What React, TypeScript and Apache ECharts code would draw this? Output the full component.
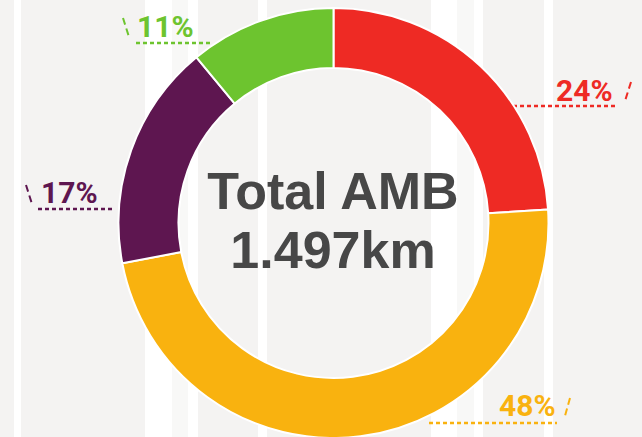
import React, { useEffect, useRef } from "react";
import * as echarts from "echarts";

const categories = ["A", "B", "C", "D"];
const shares = [24, 48, 17, 11];
const colors = ["#EE2A24", "#F9B20F", "#5E1650", "#6DC42F"];
const centerLines = ["Total AMB", "1.497km"];

// label placement (text left x, middle y), underline [x1, x2, y], slash [x1,y1,x2,y2]
const labelPos = [
  { x: 556, y: 90, u: [513, 618, 106], s: [631, 82, 625, 101] },
  { x: 499, y: 405, u: [429, 557, 423], s: [570, 398, 565, 416] },
  { x: 41, y: 192, u: [38, 112, 209], s: [26, 185, 32, 204] },
  { x: 137, y: 26, u: [136, 210, 43], s: [123, 18, 129, 37] },
];

const stripes = [
  [14, 7, "#ffffff"],
  [145, 27, "#ffffff"],
  [172, 16, "#f8f8f7"],
  [188, 10, "#ffffff"],
  [258, 9, "#ffffff"],
  [431, 26, "#ffffff"],
  [457, 17, "#f8f8f7"],
  [474, 9, "#ffffff"],
  [544, 9, "#ffffff"],
];

export default function App() {
  const ref = useRef<HTMLDivElement>(null);
  useEffect(() => {
    if (!ref.current) return;
    const chart = echarts.init(ref.current, null, { renderer: "svg" });
    const graphics: any[] = [];
    stripes.forEach(([x, w, c]) => {
      graphics.push({
        type: "rect",
        z: -10,
        shape: { x: x as number, y: 0, width: w as number, height: 437 },
        style: { fill: c as string },
        silent: true,
      });
    });
    labelPos.forEach((p, i) => {
      graphics.push({
        type: "line",
        z: 5,
        shape: { x1: p.s[0], y1: p.s[1], x2: p.s[2], y2: p.s[3] },
        style: { stroke: colors[i], lineWidth: 2, lineDash: [7, 4] },
      });
    });
    centerLines.forEach((t, i) => {
      graphics.push({
        type: "text",
        z: 10,
        style: {
          text: t,
          x: 333,
          y: 191 + i * 59,
          align: "center",
          verticalAlign: "middle",
          fill: "#474747",
          fontFamily: "Liberation Sans",
          fontWeight: "bold",
          fontSize: 52,
        },
      });
    });

    chart.setOption({
      animation: false,
      backgroundColor: "#f4f3f2",
      graphic: graphics,
      series: [
        {
          type: "pie",
          center: [333.5, 223],
          radius: [155, 215],
          startAngle: 90,
          clockwise: true,
          avoidLabelOverlap: false,
          itemStyle: { borderColor: "#ffffff", borderWidth: 2 },
          label: {
            show: true,
            position: "outside",
            formatter: (p: any) => p.value + "%",
            fontFamily: "Roboto",
            fontWeight: "bold",
            fontSize: 30,
            color: "inherit",
          },
          labelLine: {
            show: true,
            lineStyle: { width: 2.5, type: [4, 3] },
          },
          labelLayout: (params: any) => {
            const p = labelPos[params.dataIndex];
            return {
              x: p.x,
              y: p.y,
              align: "left",
              verticalAlign: "middle",
              labelLinePoints: [
                [p.u[0], p.u[2]],
                [(p.u[0] + p.u[1]) / 2, p.u[2]],
                [p.u[1], p.u[2]],
              ],
            };
          },
          data: categories.map((c, i) => ({
            name: c,
            value: shares[i],
            itemStyle: { color: colors[i] },
            label: { color: colors[i] },
          })),
        },
      ],
    });
    return () => chart.dispose();
  }, []);
  return (
    <div
      ref={ref}
      style={{ position: "fixed", left: 0, top: 0, width: 642, height: 437 }}
    />
  );
}
